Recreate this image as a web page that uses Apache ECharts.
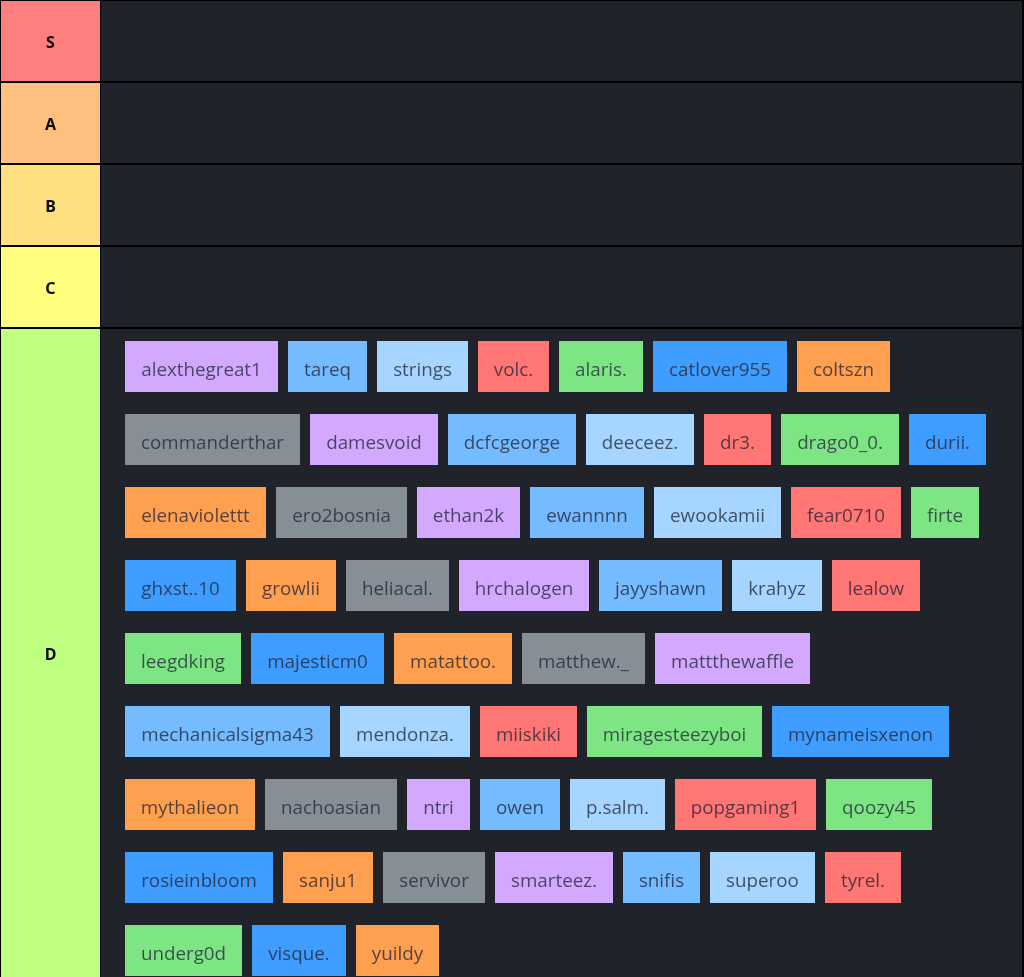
<!DOCTYPE html>
<html>
<head>
<meta charset="utf-8">
<style>
  html, body { margin: 0; padding: 0; background: #000; }
  #main { width: 1024px; height: 977px; }
</style>
<script src="https://cdn.jsdelivr.net/npm/echarts@6/dist/echarts.min.js"></script>
</head>
<body>
<div id="main"></div>
<script>
// tier names, top to bottom
const tiers = ['S', 'A', 'B', 'C', 'D'];
const tierColors = ['#ff7f7f', '#ffbf7f', '#ffdf7f', '#ffff7f', '#bfff7f'];
const chipColors = ['#d3a8ff', '#74bbff', '#a6d5ff', '#ff7675', '#7de583', '#3f9dff', '#ffa050', '#868e96'];
// everybody sits in tier D
const players = [
  'alexthegreat1', 'tareq', 'strings', 'volc.', 'alaris.', 'catlover955', 'coltszn',
  'commanderthar', 'damesvoid', 'dcfcgeorge', 'deeceez.', 'dr3.', 'drago0_0.', 'durii.',
  'elenaviolettt', 'ero2bosnia', 'ethan2k', 'ewannnn', 'ewookamii', 'fear0710', 'firte',
  'ghxst..10', 'growlii', 'heliacal.', 'hrchalogen', 'jayyshawn', 'krahyz', 'lealow',
  'leegdking', 'majesticm0', 'matattoo.', 'matthew._', 'mattthewaffle',
  'mechanicalsigma43', 'mendonza.', 'miiskiki', 'miragesteezyboi', 'mynameisxenon',
  'mythalieon', 'nachoasian', 'ntri', 'owen', 'p.salm.', 'popgaming1', 'qoozy45',
  'rosieinbloom', 'sanju1', 'servivor', 'smarteez.', 'snifis', 'superoo', 'tyrel.',
  'underg0d', 'visque.', 'yuildy'
];

const chipFont = '18.8px "Open Sans"';
const labelFont = 'bold 16px "Noto Sans"';

// flow the chips left to right like inline blocks, wrap when the row is full
const ctx = document.createElement('canvas').getContext('2d');
ctx.font = chipFont;
const chipData = [];
let cx = 125, cy = 341;
players.forEach(function (name, i) {
  const w = Math.round(ctx.measureText(name).width) + 32;
  if (cx + w > 1000) {
    cx = 125;
    cy += 73;
  }
  chipData.push([cx, cy, cx + w, cy + 51, i % chipColors.length, name]);
  cx += w + 10;
});

// rows: four empty ones of 80px, then D runs off the bottom
const rowData = tiers.map(function (t, i) {
  const top = 1 + i * 82;
  return [top, i === tiers.length - 1 ? 977 : top + 80, i, t];
});

function rectBetween(api, x0, y0, x1, y1, fill) {
  const a = api.coord([x0, y0]);
  const b = api.coord([x1, y1]);
  return { type: 'rect', shape: { x: a[0], y: a[1], width: b[0] - a[0], height: b[1] - a[1] }, style: { fill: fill } };
}

const chart = echarts.init(document.getElementById('main'));
chart.setOption({
  animation: false,
  backgroundColor: '#000000',
  grid: { left: 0, right: 0, top: 0, bottom: 0 },
  xAxis: { type: 'value', min: 0, max: 1024, show: false },
  yAxis: { type: 'value', min: 0, max: 977, inverse: true, show: false },
  series: [
    {
      type: 'custom',
      coordinateSystem: 'cartesian2d',
      silent: true,
      clip: true,
      data: rowData,
      encode: { y: [0, 1] },
      renderItem: function (params, api) {
        const top = api.value(0), bottom = api.value(1), idx = api.value(2);
        const mid = api.coord([50.5, (top + bottom) / 2 + 2.5]);
        return {
          type: 'group',
          children: [
            rectBetween(api, 1, top, 100, bottom, tierColors[idx]),
            rectBetween(api, 101, top, 1022, bottom, '#20232a'),
            {
              type: 'text',
              style: {
                x: mid[0], y: mid[1], text: tiers[idx], font: labelFont,
                fill: '#0a0a0a', align: 'center', verticalAlign: 'middle'
              }
            }
          ]
        };
      }
    },
    {
      type: 'custom',
      coordinateSystem: 'cartesian2d',
      silent: true,
      clip: true,
      data: chipData,
      encode: { x: [0, 2], y: [1, 3] },
      renderItem: function (params, api) {
        const d = chipData[params.dataIndex];
        // the label sits a little under the chip's centre
        const mid = api.coord([(d[0] + d[2]) / 2, (d[1] + d[3]) / 2 + 4.5]);
        return {
          type: 'group',
          children: [
            rectBetween(api, d[0], d[1], d[2], d[3], chipColors[d[4]]),
            {
              type: 'text',
              style: {
                x: mid[0], y: mid[1], text: d[5], font: chipFont,
                fill: 'rgba(31,35,52,0.76)', align: 'center', verticalAlign: 'middle'
              }
            }
          ]
        };
      }
    }
  ]
});
</script>
</body>
</html>
